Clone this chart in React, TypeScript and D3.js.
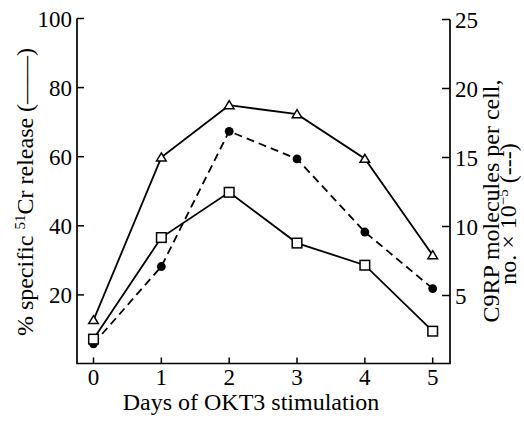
import React from "react";
import * as d3 from "d3";

const days = [0, 1, 2, 3, 4, 5];
const triangleRelease = [12.7, 59.8, 74.9, 72.3, 59.4, 31.5];
const squareRelease = [7.2, 36.6, 49.7, 35.0, 28.6, 9.5];
const c9rpMolecules = [1.5, 7.1, 16.9, 14.9, 9.6, 5.5];
const leftTicks = [20, 40, 60, 80, 100];
const rightTicks = [5, 10, 15, 20, 25];

const W = 524;
const H = 422;

export default function App() {
  const x = d3.scaleLinear().domain([0, 5]).range([93.5, 432.7]);
  const yL = d3.scaleLinear().domain([0, 100]).range([364, 18.5]);
  const yR = d3.scaleLinear().domain([0, 25]).range([364.5, 19.5]);
  const axisLeftX = 77;
  const axisRightX = 450;
  const axisBottomY = 363.5;

  const lineL = d3
    .line<number>()
    .x((_, i) => x(days[i]))
    .y((d) => yL(d));
  const lineR = d3
    .line<number>()
    .x((_, i) => x(days[i]))
    .y((d) => yR(d));

  const font = "'Liberation Serif', 'DejaVu Serif', serif";
  const sw = 1.8;
  const tickFs = 23;
  const titleFs = 24;

  return (
    <svg width={W} height={H} style={{ position: "absolute", left: 0, top: 0, background: "#fff" }}>
      <rect x={0} y={0} width={W} height={H} fill="#fff" />
      {/* axes */}
      <path
        d={`M${axisLeftX},${yL(100)} V${axisBottomY} H${axisRightX} V${yR(25)}`}
        fill="none"
        stroke="#000"
        strokeWidth={1.7}
      />
      {leftTicks.map((t) => (
        <g key={"l" + t}>
          <line x1={axisLeftX} x2={axisLeftX + 7} y1={yL(t)} y2={yL(t)} stroke="#000" strokeWidth={1.5} />
          <text x={72} y={yL(t)} dy="0.35em" textAnchor="end" fontFamily={font} fontSize={tickFs} fill="#000">
            {t}
          </text>
        </g>
      ))}
      {rightTicks.map((t) => (
        <g key={"r" + t}>
          <line x1={axisRightX - 8} x2={axisRightX} y1={yR(t)} y2={yR(t)} stroke="#000" strokeWidth={1.5} />
          <text x={455} y={yR(t)} dy="0.35em" textAnchor="start" fontFamily={font} fontSize={tickFs} fill="#000">
            {t}
          </text>
        </g>
      ))}
      {days.map((d) => (
        <g key={"x" + d}>
          <line x1={x(d)} x2={x(d)} y1={axisBottomY} y2={axisBottomY - 6} stroke="#000" strokeWidth={1.5} />
          <text x={x(d)} y={377} dy="0.35em" textAnchor="middle" fontFamily={font} fontSize={tickFs} fill="#000">
            {d}
          </text>
        </g>
      ))}
      <text x={251} y={402} dy="0.35em" textAnchor="middle" fontFamily={font} fontSize={titleFs} fill="#000">
        Days of OKT3 stimulation
      </text>
      <text
        transform={`translate(33.4,192) rotate(-90)`}
        textAnchor="middle"
        fontFamily={font}
        fontSize={titleFs}
        fill="#000"
      >
        % specific <tspan fontSize={15} baselineShift="super">51</tspan>Cr release (——)
      </text>
      <text
        transform={`translate(499,201) rotate(-90)`}
        textAnchor="middle"
        fontFamily={font}
        fontSize={titleFs}
        fill="#000"
      >
        C9RP molecules per cell,
      </text>
      <text
        transform={`translate(516,214) rotate(-90)`}
        textAnchor="middle"
        fontFamily={font}
        fontSize={titleFs}
        fill="#000"
      >
        no. × 10<tspan fontSize={15} baselineShift="super">−5</tspan> (---)
      </text>

      {/* lines */}
      <path d={lineL(triangleRelease) || ""} fill="none" stroke="#000" strokeWidth={sw} />
      <path d={lineL(squareRelease) || ""} fill="none" stroke="#000" strokeWidth={sw} />
      <path d={lineR(c9rpMolecules) || ""} fill="none" stroke="#000" strokeWidth={sw} strokeDasharray="8,5" />

      {/* markers */}
      {c9rpMolecules.map((v, i) => (
        <circle key={"c" + i} cx={x(days[i])} cy={yR(v)} r={4.4} fill="#000" />
      ))}
      {squareRelease.map((v, i) => (
        <rect key={"s" + i} x={x(days[i]) - 4.8} y={yL(v) - 4.8} width={9.6} height={9.6} fill="#fff" stroke="#000" strokeWidth={1.5} />
      ))}
      {triangleRelease.map((v, i) => {
        const cx = x(days[i]);
        const cy = yL(v);
        return (
          <path
            key={"t" + i}
            d={`M${cx},${cy - 4.5} L${cx + 4.8},${cy + 3.5} L${cx - 4.8},${cy + 3.5} Z`}
            fill="#fff"
            stroke="#000"
            strokeWidth={1.5}
          />
        );
      })}
    </svg>
  );
}
